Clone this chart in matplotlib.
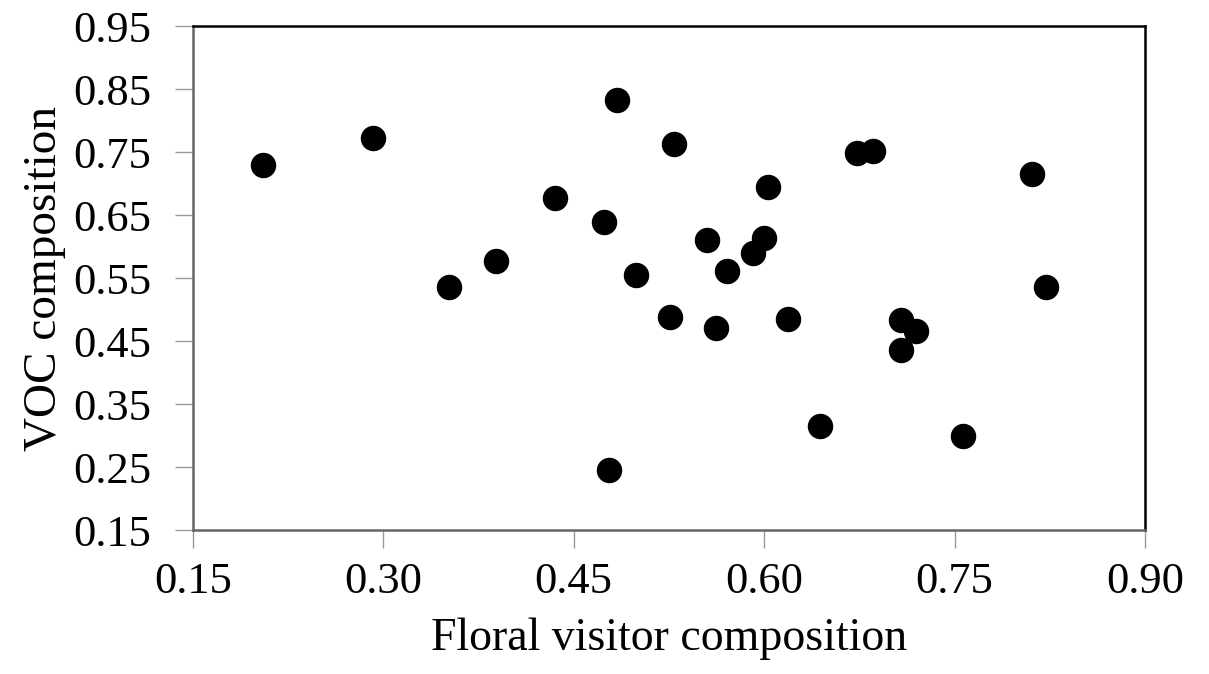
import numpy as np
import matplotlib.pyplot as plt

plt.rcParams['font.family'] = ['Liberation Serif', 'DejaVu Serif']

# floral visitor composition vs VOC composition
visitor = [0.205, 0.292, 0.352, 0.389, 0.435, 0.474, 0.478, 0.484, 0.499,
           0.526, 0.529, 0.555, 0.562, 0.571, 0.591, 0.600, 0.603, 0.619,
           0.644, 0.673, 0.686, 0.708, 0.708, 0.720, 0.757, 0.811, 0.822]
voc = [0.729, 0.773, 0.535, 0.577, 0.677, 0.639, 0.245, 0.833, 0.555,
       0.488, 0.763, 0.611, 0.470, 0.561, 0.589, 0.613, 0.694, 0.485,
       0.315, 0.748, 0.752, 0.483, 0.435, 0.466, 0.299, 0.715, 0.536]

xticks = [0.15, 0.30, 0.45, 0.60, 0.75, 0.90]
yticks = [0.15, 0.25, 0.35, 0.45, 0.55, 0.65, 0.75, 0.85, 0.95]

fig = plt.figure(figsize=(12.09, 6.74), dpi=100)
ax = fig.add_axes([0.1596, 0.2136, 0.7874, 0.7478])

ax.scatter(visitor, voc, s=300, color='black', zorder=3, clip_on=False)

ax.set_xlim(0.15, 0.90)
ax.set_ylim(0.15, 0.95)
ax.set_xticks(xticks)
ax.set_yticks(yticks)
ax.set_xticklabels(['%.2f' % t for t in xticks])
ax.set_yticklabels(['%.2f' % t for t in yticks])

for side in ['left', 'bottom']:
    ax.spines[side].set_color('#666666')
    ax.spines[side].set_linewidth(1.8)
for side in ['top', 'right']:
    ax.spines[side].set_color('black')
    ax.spines[side].set_linewidth(1.8)

ax.tick_params(axis='both', direction='out', length=13, width=1, color='#999999',
               labelsize=32)
ax.tick_params(axis='y', pad=17)
ax.tick_params(axis='x', pad=10)

ax.set_xlabel('Floral visitor composition', fontsize=33, labelpad=11)
ax.set_ylabel('VOC composition', fontsize=34, labelpad=5)

fig.savefig('out.png', dpi=100)
